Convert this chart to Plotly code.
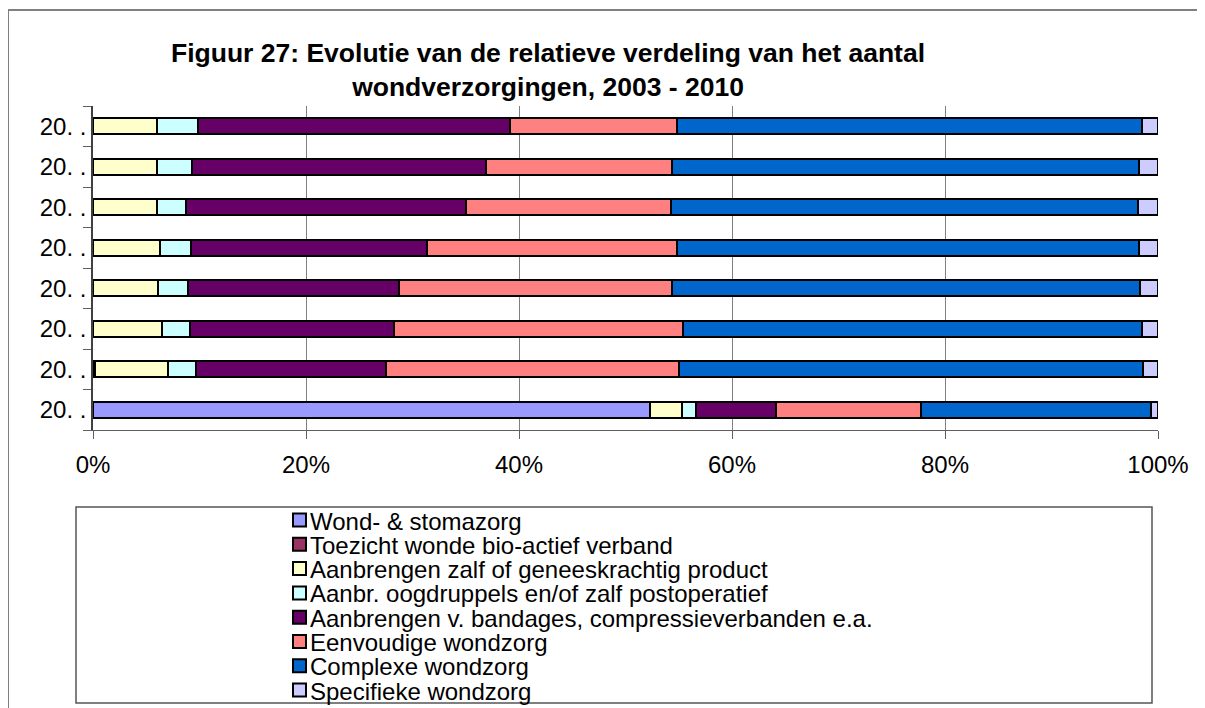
"""Stacked 100% bar chart: evolutie van de relatieve verdeling van wondverzorgingen."""

import plotly.graph_objects as go

YEARS = ["2003", "2004", "2005", "2006", "2007", "2008", "2009", "2010"]
YEAR_TICKS = ["20. ."] * len(YEARS)
PCT_TICKS = [0, 20, 40, 60, 80, 100]
PCT_LABELS = ["0%", "20%", "40%", "60%", "80%", "100%"]

SERIES_NAMES = [
    "Wond- & stomazorg",
    "Toezicht wonde bio-actief verband",
    "Aanbrengen zalf of geneeskrachtig product",
    "Aanbr. oogdruppels en/of zalf postoperatief",
    "Aanbrengen v. bandages, compressieverbanden e.a.",
    "Eenvoudige wondzorg",
    "Complexe wondzorg",
    "Specifieke wondzorg",
]

# shares in % per year (2003 .. 2010)
wond_stoma = [52.3, 0.2, 0, 0, 0, 0, 0, 0]
toezicht = [0, 0, 0, 0, 0, 0, 0, 0]
zalf = [3.0, 6.8, 6.5, 6.1, 6.3, 6.0, 6.0, 6.0]
oogdruppels = [1.3, 2.7, 2.6, 2.8, 2.9, 2.7, 3.3, 3.9]
bandages = [7.5, 17.8, 19.2, 19.8, 22.2, 26.3, 27.6, 29.3]
eenvoudig = [13.6, 27.5, 27.1, 25.7, 23.4, 19.3, 17.5, 15.6]
complex_ = [21.6, 43.6, 43.1, 43.9, 43.4, 43.8, 43.8, 43.7]
specifiek = [0.7, 1.4, 1.5, 1.7, 1.8, 1.9, 1.8, 1.5]

SERIES_VALUES = [wond_stoma, toezicht, zalf, oogdruppels, bandages, eenvoudig, complex_, specifiek]
COLORS = ["#9999FF", "#993366", "#FFFFCC", "#CCFFFF", "#660066", "#FF8080", "#0066CC", "#CCCCFF"]

FONT = "Liberation Sans, Arial, sans-serif"
OFF = 8  # page body margin
W, H = 1205 - OFF, 708 - OFF
L, R, T, B = 93, 1158, 106, 430  # plot area, screen pixels


def px(x):
    return (x - L) / (R - L)


def py(y):
    return (B - y) / (B - T)


fig = go.Figure()
for name, vals, col in zip(SERIES_NAMES, SERIES_VALUES, COLORS):
    fig.add_trace(
        go.Bar(
            y=YEARS,
            x=vals,
            name=name,
            orientation="h",
            marker=dict(color=col, line=dict(color="black", width=2)),
            showlegend=False,
            hovertemplate=f"{name}<br>%{{y}}: %{{x:.1f}}%<extra></extra>",
        )
    )

shapes = [
    # outer chart frame
    dict(type="rect", xref="paper", yref="paper", x0=px(8), y0=py(10), x1=px(1230), y1=py(740),
         line=dict(color="#808080", width=2), layer="below"),
    # legend box
    dict(type="rect", xref="paper", yref="paper", x0=px(76), y0=py(507), x1=px(1152), y1=py(703),
         line=dict(color="#555555", width=1.5)),
]
annotations = []
# hand-drawn legend (Excel-style, tight rows)
row0, row_step = 520, 24.3
for i, (name, col) in enumerate(zip(SERIES_NAMES, COLORS)):
    cy = row0 + i * row_step
    shapes.append(
        dict(type="rect", xref="paper", yref="paper", x0=px(293), x1=px(306), y0=py(cy - 6.5), y1=py(cy + 6.5),
             fillcolor=col, line=dict(color="black", width=2))
    )
    annotations.append(
        dict(text=name, xref="paper", yref="paper", x=px(309), y=py(cy + 1), xanchor="left", yanchor="middle",
             borderpad=0, showarrow=False, font=dict(family=FONT, size=24, color="black"))
    )

fig.update_layout(
    barmode="stack",
    barnorm="percent",
    bargap=0.6,
    width=W,
    height=H,
    margin=dict(l=L - OFF, r=W - (R - OFF), t=T - OFF, b=H - (B - OFF), pad=0),
    paper_bgcolor="white",
    plot_bgcolor="white",
    font=dict(family=FONT, color="black"),
    title=dict(
        text="<b>Figuur 27: Evolutie van de relatieve verdeling van het aantal<br>wondverzorgingen, 2003 - 2010</b>",
        x=(548 - OFF) / W,
        xanchor="center",
        y=1 - (62 - OFF) / H,
        yanchor="middle",
        font=dict(family=FONT, size=26.5, color="black"),
    ),
    shapes=shapes,
    annotations=annotations,
)
fig.update_xaxes(
    range=[0, 100],
    tickvals=PCT_TICKS,
    ticktext=PCT_LABELS,
    showgrid=True,
    gridcolor="#808080",
    gridwidth=1,
    zeroline=False,
    showline=True,
    linecolor="#606060",
    linewidth=1,
    ticks="outside",
    ticklen=8,
    tickcolor="#606060",
    ticklabelstandoff=5,
    tickfont=dict(size=24),
)
fig.update_yaxes(
    type="category",
    tickvals=YEARS,
    ticktext=YEAR_TICKS,
    showline=True,
    linecolor="#404040",
    linewidth=1.5,
    ticks="outside",
    tickson="boundaries",
    ticklen=8,
    tickcolor="#606060",
    tickfont=dict(size=24),
    showgrid=False,
)

fig.write_html("out.html")
